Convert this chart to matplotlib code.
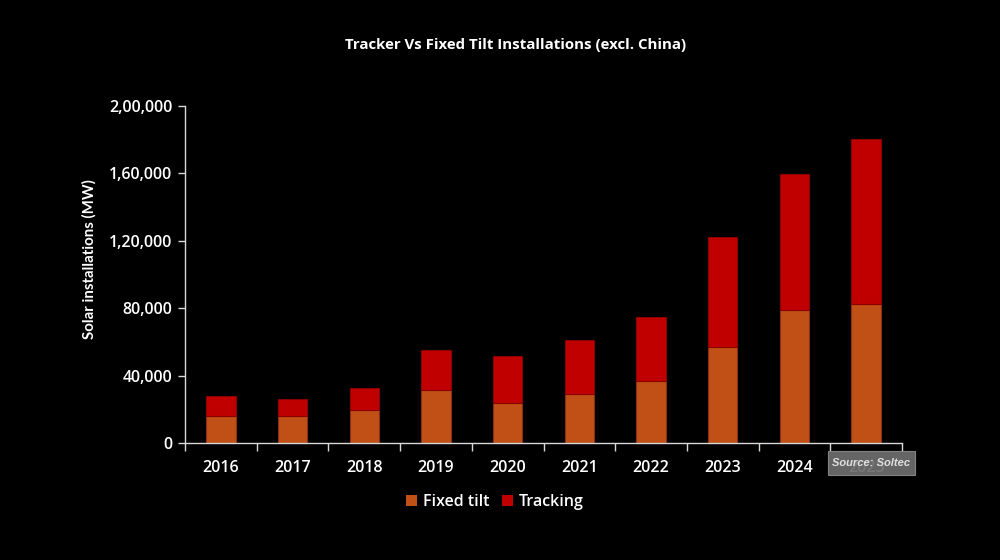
import matplotlib
matplotlib.use("Agg")
from matplotlib import pyplot
from matplotlib.patches import Rectangle

years = ["2016", "2017", "2018", "2019", "2020", "2021", "2022", "2023", "2024", "2025"]
fixed_tilt = [16200, 16200, 19600, 31300, 23500, 29000, 37000, 57000, 78600, 82700]
tracking_total = [27800, 26100, 32500, 54900, 51700, 61200, 74900, 121900, 159500, 180100]
tracking = [t - f for t, f in zip(tracking_total, fixed_tilt)]
y_ticks = [0, 40000, 80000, 120000, 160000, 200000]
y_labels = ["0", "40,000", "80,000", "1,20,000", "1,60,000", "2,00,000"]

FIXED_COLOUR = "#C05016"
TRACK_COLOUR = "#C00000"


def main() -> None:
    pyplot.rcParams["font.family"] = ["Open Sans", "DejaVu Sans"]
    pyplot.rcParams["font.weight"] = 600

    figure = pyplot.figure(figsize=(10, 5.6), dpi=100)
    figure.patch.set_facecolor("black")
    axes = figure.add_axes([0.185, 0.209, 0.717, 0.602])
    axes.set_facecolor("black")

    x = list(range(len(years)))
    axes.bar(x, fixed_tilt, width=0.41, color=FIXED_COLOUR,
             edgecolor="#8A3010", linewidth=0.8, label="Fixed tilt")
    axes.bar(x, tracking, width=0.41, bottom=fixed_tilt, color=TRACK_COLOUR,
             edgecolor="#8A0000", linewidth=0.8, label="Tracking")

    axes.set_xlim(-0.5, len(years) - 0.5)
    axes.set_ylim(0, 200000)

    # category labels in the middle, tick marks on the boundaries
    axes.set_xticks([i - 0.5 for i in range(len(years) + 1)], minor=False)
    axes.set_xticklabels([])
    axes.set_xticks(x, minor=True)
    axes.set_xticklabels(years, minor=True)
    axes.tick_params(axis="x", which="major", direction="out", length=6,
                     color="#d9d9d9", width=1)
    axes.tick_params(axis="x", which="minor", length=0, pad=12,
                     labelsize=11.5, labelcolor="white")

    axes.set_yticks(y_ticks)
    axes.set_yticklabels(y_labels)
    axes.tick_params(axis="y", direction="out", length=5, color="#d9d9d9",
                     width=1, labelsize=11.5, labelcolor="white", pad=4)

    for side in ("top", "right"):
        axes.spines[side].set_visible(False)
    for side in ("left", "bottom"):
        axes.spines[side].set_color("#d9d9d9")
        axes.spines[side].set_linewidth(1)

    axes.set_ylabel("Solar installations (MW)", color="white", fontsize=10.8,
                    fontweight="bold", family=["Lato", "DejaVu Sans"])
    axes.yaxis.set_label_coords(-0.124, 0.546)

    figure.text(0.516, 0.92, "Tracker Vs Fixed Tilt Installations (excl. China)",
                ha="center", va="center", color="white", fontsize=10.8,
                fontweight="bold")

    legend = figure.legend(loc="center", bbox_to_anchor=(0.495, 0.104), ncol=2,
                           frameon=False, fontsize=11.5, handlelength=0.7,
                           handleheight=0.7, handletextpad=0.35,
                           columnspacing=0.8, labelcolor="white")
    for handle in legend.legend_handles:
        handle.set_edgecolor("none")

    # source badge covering the last category label
    figure.patches.append(Rectangle((0.828, 0.152), 0.087, 0.043,
                                    transform=figure.transFigure,
                                    facecolor="#6e6e6e", edgecolor="#8a8a8a",
                                    linewidth=0.8, alpha=0.93, zorder=5))
    figure.text(0.8715, 0.174, "Source: Soltec", ha="center", va="center",
                color="#e0e0e0", fontsize=8, fontweight="bold", style="italic",
                family=["Liberation Sans", "DejaVu Sans"], zorder=6)

    figure.savefig("out.png", facecolor="black")


if __name__ == "__main__":
    main()
